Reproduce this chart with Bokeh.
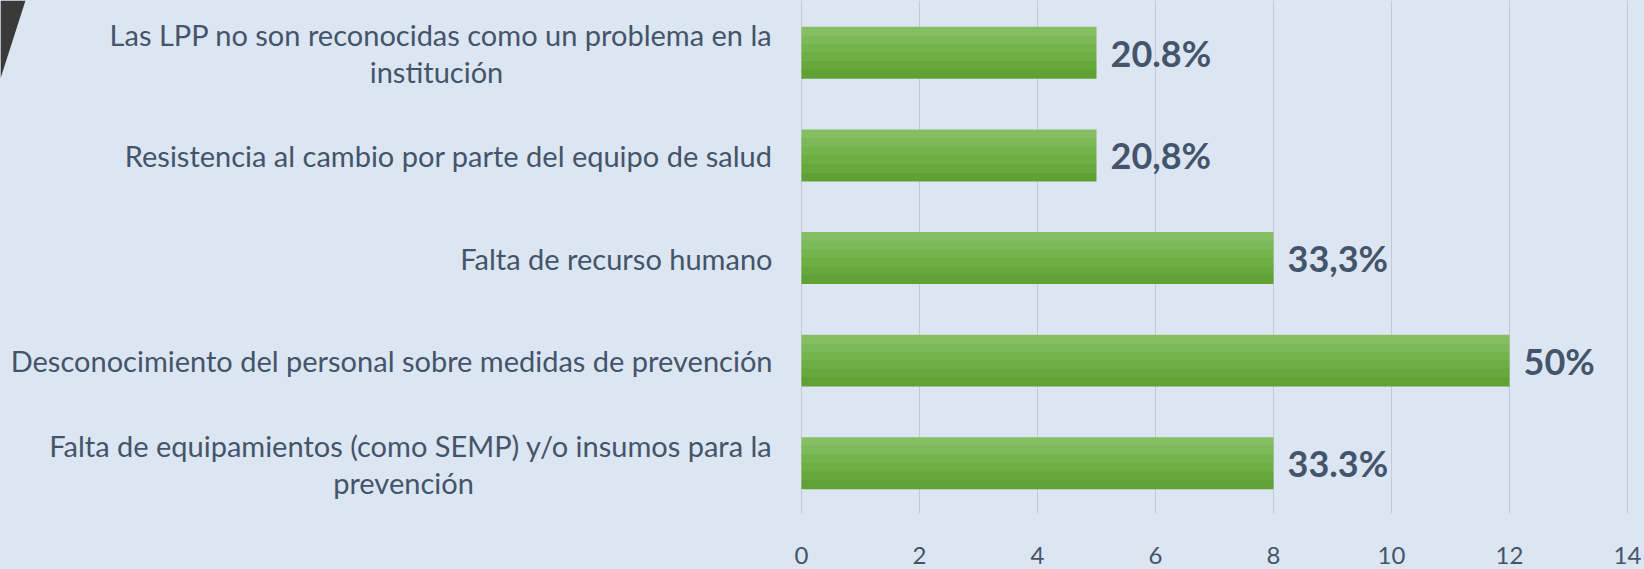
from bokeh.plotting import figure
from bokeh.models import Range1d, ColumnDataSource, PolyAnnotation, GlobalInlineStyleSheet
from bokeh.transform import dodge
from bokeh.core.properties import value
from bokeh.embed import file_html
from bokeh.resources import INLINE

# ---- data (bottom to top) ----
categories = [
    "Falta de equipamientos (como SEMP) y/o insumos para la\nprevención",
    "Desconocimiento del personal sobre medidas de prevención",
    "Falta de recurso humano",
    "Resistencia al cambio por parte del equipo de salud",
    "Las LPP no son reconocidas como un problema en la\ninstitución",
]
counts = [8, 12, 8, 5, 5]
pct_labels = ["33.3%", "50%", "33,3%", "20,8%", "20.8%"]
x_ticks = [0, 2, 4, 6, 8, 10, 12, 14]

positions = list(range(len(categories)))
src = ColumnDataSource(dict(pos=positions, count=counts, pct=pct_labels))

BG = "#DCE6F2"
TXT = "#44546A"
FONT = "Lato"
W, H = 1644, 569
FRAME_LEFT_PX, PX_PER_UNIT = 801, 59.0
LABEL_GAP = 29
LINE_SHIFT = (-18, 19)
SECOND_LINE_CENTER = {0: -398, 4: -365}   # px from the axis origin

x0 = -FRAME_LEFT_PX / PX_PER_UNIT
x1 = (W - FRAME_LEFT_PX) / PX_PER_UNIT

p = figure(width=W, height=H, output_backend="svg", toolbar_location=None,
           x_range=Range1d(x0, x1), y_range=Range1d(-0.49, 4.51),
           min_border_left=0, min_border_right=0, min_border_top=0, min_border_bottom=56)
p.stylesheets = [GlobalInlineStyleSheet(css="html,body{margin:0;padding:0;background:#DCE6F2;overflow:hidden}")]
p.background_fill_color = BG
p.border_fill_color = BG
p.outline_line_color = None

# gradient-like bars (bands from light top to darker bottom)
band_colors = ["#86BE63", "#7DB958", "#74B44C", "#6DAF43", "#66A83B", "#5FA134"]
n = len(band_colors)
bh = 0.5 / n
for i, c in enumerate(band_colors):
    off = 0.25 - (i + 0.5) * bh
    p.hbar(y=dodge("pos", off, range=p.y_range), left=0, right="count", height=bh * 1.08,
           source=src, fill_color=c, line_color=None)

p.text(x="count", y="pos", text="pct", source=src, x_offset=14,
       text_baseline="middle", text_align="left",
       text_font=value(FONT), text_font_style="bold", text_font_size="36px", text_color=TXT)

# category labels
first_lines, first_dy, sec_lines, sec_pos, sec_dx = [], [], [], [], []
for pos, c in zip(positions, categories):
    parts = c.split("\n")
    first_lines.append(parts[0])
    first_dy.append(LINE_SHIFT[0] if len(parts) > 1 else 0)
    if len(parts) > 1:
        sec_lines.append(parts[1])
        sec_pos.append(pos)
        sec_dx.append(SECOND_LINE_CENTER[pos])
lab1 = ColumnDataSource(dict(pos=positions, x=[0] * len(positions), t=first_lines, dy=first_dy))
lab2 = ColumnDataSource(dict(pos=sec_pos, x=[0] * len(sec_pos), t=sec_lines, dx=sec_dx))
p.text(x="x", y="pos", text="t", source=lab1, x_offset=-LABEL_GAP, y_offset="dy",
       text_align="right", text_baseline="middle",
       text_font=value(FONT), text_font_size="29px", text_color=TXT)
p.text(x="x", y="pos", text="t", source=lab2, x_offset="dx", y_offset=LINE_SHIFT[1],
       text_align="center", text_baseline="middle",
       text_font=value(FONT), text_font_size="29px", text_color=TXT)

# axes
p.yaxis.visible = False
p.xaxis.ticker = x_ticks
p.xaxis.axis_line_color = None
p.xaxis.major_tick_line_color = None
p.xaxis.minor_tick_line_color = None
p.xaxis.major_label_standoff = 27
p.xaxis.major_label_text_font = FONT
p.xaxis.major_label_text_font_size = "24px"
p.xaxis.major_label_text_color = TXT

p.xgrid.ticker = x_ticks
p.xgrid.grid_line_color = "#C5C9CF"
p.ygrid.visible = False

# dark decorative corner shape
p.add_layout(PolyAnnotation(xs=[0, 25, 0], ys=[0, 0, 78], xs_units="canvas", ys_units="canvas",
                            fill_color="#3A3A3A", fill_alpha=1, line_color=None))

open("out.html", "w").write(file_html(p, INLINE))
